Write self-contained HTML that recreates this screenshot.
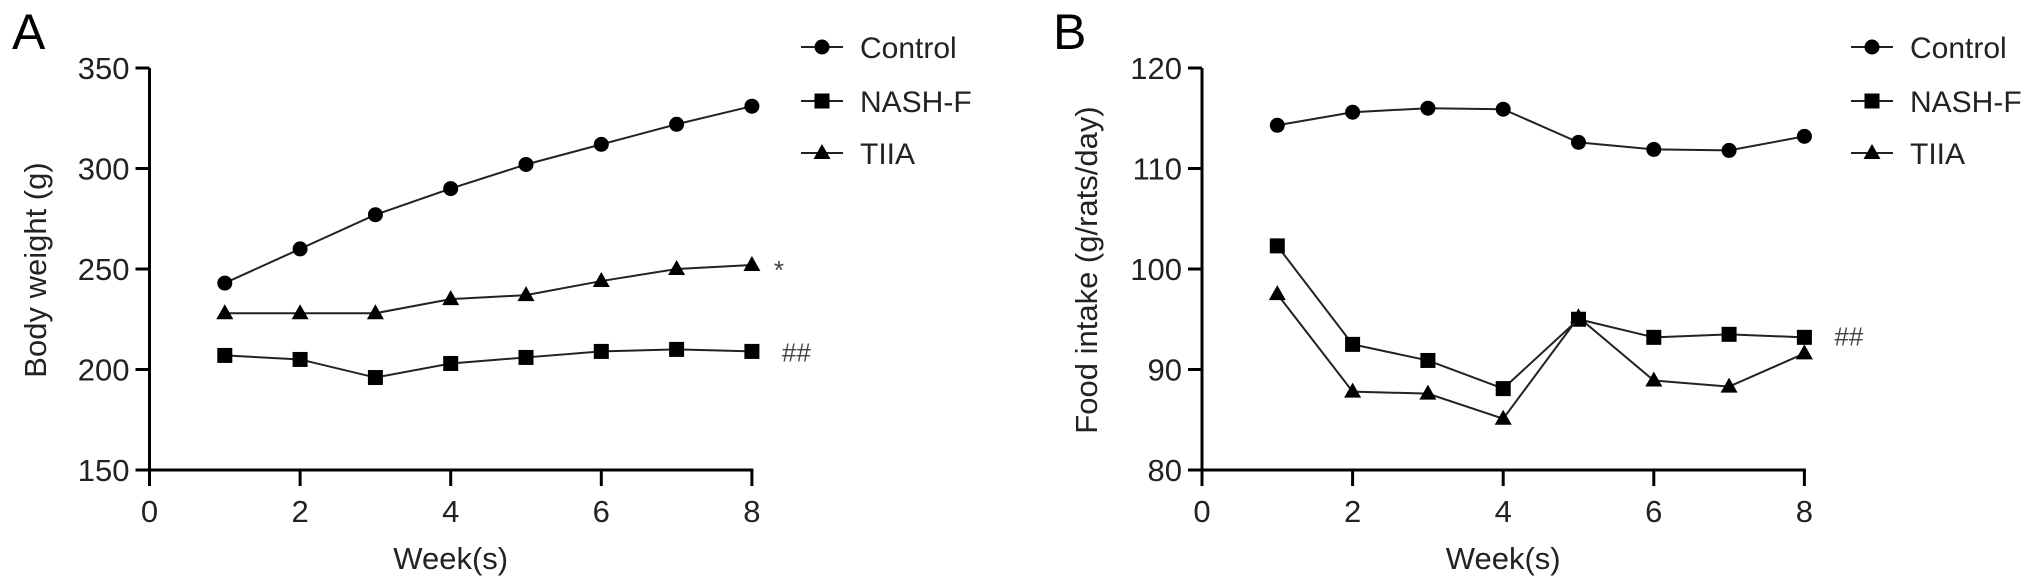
<!DOCTYPE html>
<html><head><meta charset="utf-8">
<style>
html,body{margin:0;padding:0;background:#fff;}
svg{display:block;font-family:"Liberation Sans",Arial,sans-serif;}
</style></head>
<body>
<svg id="chart" width="2032" height="587" viewBox="0 0 2032 587"></svg>
<script>
const weeks = [1,2,3,4,5,6,7,8];
const xTicks = [0,2,4,6,8];
const aYTicks = [150,200,250,300,350];
const bYTicks = [80,90,100,110,120];
const aControl = [243,260,277,290,302,312,322,331];
const aNash = [207,205,196,203,206,209,210,209];
const aTiia = [228,228,228,235,237,244,250,252];
const bControl = [114.3,115.6,116.0,115.9,112.6,111.9,111.8,113.2];
const bNash = [102.3,92.5,90.9,88.1,95.0,93.2,93.5,93.2];
const bTiia = [97.5,87.8,87.6,85.1,95.2,88.9,88.3,91.6];
const seriesNames = ["Control","NASH-F","TIIA"];

const NS="http://www.w3.org/2000/svg";
const svg=document.getElementById('chart');
function mk(tag,attrs,parent){const e=document.createElementNS(NS,tag);for(const k in attrs)e.setAttribute(k,attrs[k]);(parent||svg).appendChild(e);return e;}

function marker(g,type,x,y){
  let e;
  if(type===0){e=mk('circle',{cx:x,cy:y,r:7.5,fill:'#000'},g);}
  else if(type===1){e=mk('rect',{x:x-7.5,y:y-7.5,width:15,height:15,fill:'#000'},g);}
  else {e=mk('polygon',{points:`${x},${y-9} ${x-8.5},${y+6} ${x+8.5},${y+6}`,fill:'#000'},g);}
  return e;
}

function panel(cfg){
  const x0=cfg.left, xs=75.3, yTop=68, yBot=470;
  const X=v=>x0+v*xs;
  const Y=v=>yBot-(v-cfg.ymin)/(cfg.ymax-cfg.ymin)*(yBot-yTop);
  const g=mk('g',{});
  
  
  const lt=mk('text',{x:cfg.letterX,y:49,'font-size':50},g);lt.textContent=cfg.letter;
  
  
  // axes
  const ax=mk('g',{stroke:'#000','stroke-width':3,fill:'none'},g);
  
  
  mk('line',{x1:X(0),y1:yTop,x2:X(0),y2:yBot+1.5},ax);
  mk('line',{x1:X(0)-1.5,y1:yBot,x2:X(8)+1.5,y2:yBot},ax);
  cfg.yticks.forEach(t=>{
    mk('line',{x1:X(0)-14,y1:Y(t),x2:X(0),y2:Y(t)},ax);
    const tx=mk('text',{x:X(0)-20,y:Y(t)+11,'font-size':31,'text-anchor':'end',fill:'#222'},g);
    tx.textContent=t;
    
    
  });
  xTicks.forEach(t=>{
    mk('line',{x1:X(t),y1:yBot,x2:X(t),y2:yBot+16},ax);
    const tx=mk('text',{x:X(t),y:522,'font-size':31,'text-anchor':'middle',fill:'#222'},g);
    tx.textContent=t;
    
    
  });
  const xt=mk('text',{x:X(4),y:569,'font-size':31,'text-anchor':'middle',fill:'#222'},g);
  xt.textContent='Week(s)';
  
  
  const yt=mk('text',{x:0,y:0,'font-size':31,'text-anchor':'middle',fill:'#222',transform:`translate(${cfg.ytX},${cfg.ytY}) rotate(-90)`},g);
  yt.textContent=cfg.ytitle;
  
  
  cfg.series.forEach((vals,si)=>{
    const sg=mk('g',{},g);
    
    
    mk('polyline',{points:weeks.map((w,i)=>X(w)+','+Y(vals[i])).join(' '),fill:'none',stroke:'#222','stroke-width':2},sg);
    weeks.forEach((w,i)=>{const m=marker(sg,si,X(w),Y(vals[i]));
      
      });
  });
  cfg.annots.forEach(a=>{
    const t=mk('text',{x:X(8)+a.dx,y:Y(a.v)+a.dy,'font-size':a.fs,fill:'#444'},g);
    t.textContent=a.txt;
    
    
  });
  // legend
  const lg=mk('g',{},g);
  
  
  const rows=[47,101,153];
  seriesNames.forEach((n,i)=>{
    const eg=mk('g',{},lg);
    
    
    mk('line',{x1:cfg.legX-21,y1:rows[i],x2:cfg.legX+21,y2:rows[i],stroke:'#222','stroke-width':2},eg);
    marker(eg,i,cfg.legX,rows[i]);
    const t=mk('text',{x:cfg.legX+38,y:rows[i]+11,'font-size':30,fill:'#222'},eg);
    t.textContent=n;
  });
}

panel({name:'panel-a-body-weight',letter:'A',letterX:12,left:149.5,ymin:150,ymax:350,yticks:aYTicks,
  ytitle:'Body weight (g)',ytX:46,ytY:270,series:[aControl,aNash,aTiia],legX:822,
  annots:[{txt:'*',v:aTiia[7],dx:22,dy:14,fs:26},{txt:'##',v:aNash[7],dx:30,dy:10,fs:26}]});
panel({name:'panel-b-food-intake',letter:'B',letterX:1053,left:1202,ymin:80,ymax:120,yticks:bYTicks,
  ytitle:'Food intake (g/rats/day)',ytX:1097,ytY:270,series:[bControl,bNash,bTiia],legX:1872,
  annots:[{txt:'##',v:bNash[7],dx:30,dy:8,fs:26}]});
</script>
</body></html>
